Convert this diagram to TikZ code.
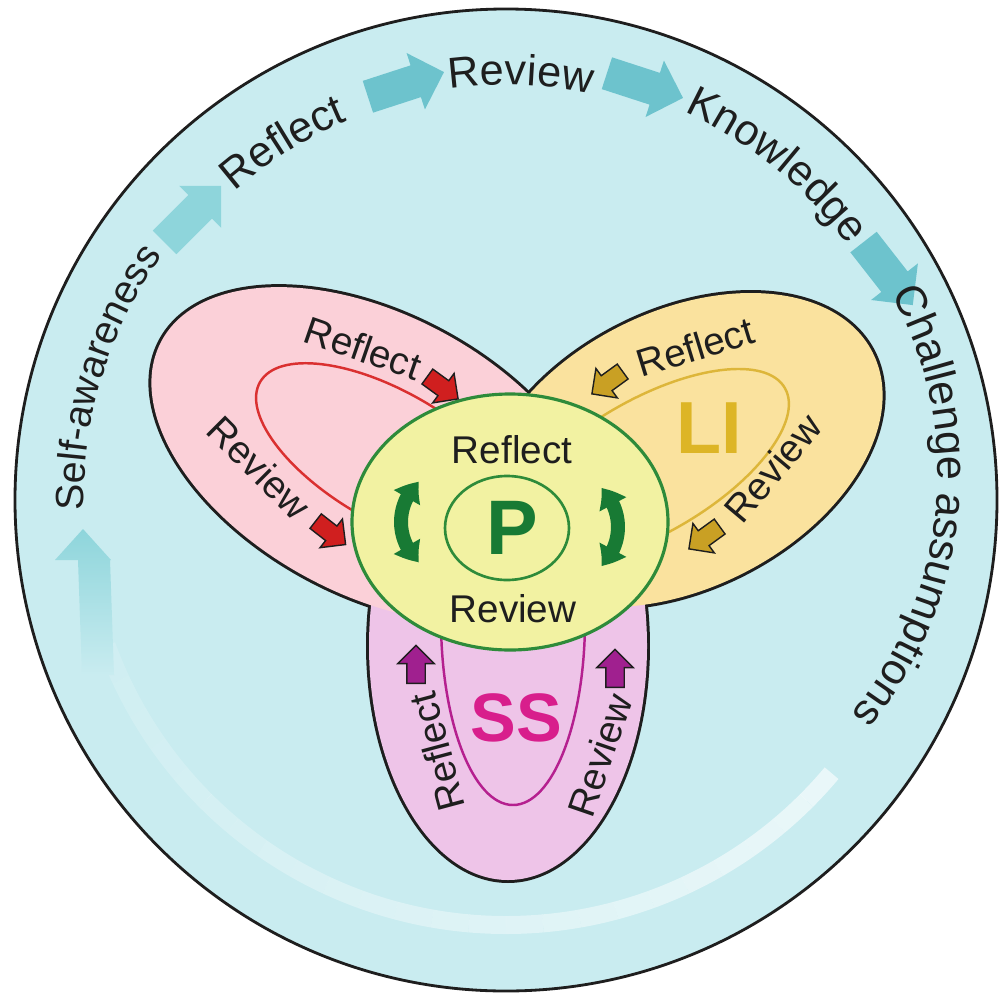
\documentclass[tikz,border=0pt]{standalone}
\usepackage{fontspec}
\setmainfont{Liberation Sans}
\usetikzlibrary{shapes.arrows,arrows.meta,bending,decorations.text}

\definecolor{ringbg}{HTML}{C9ECF0}
\definecolor{pinklobe}{HTML}{FBD0D8}
\definecolor{goldlobe}{HTML}{FAE29E}
\definecolor{plumlobe}{HTML}{EEC4E8}
\definecolor{centrefill}{HTML}{F2F2A2}
\definecolor{centreline}{HTML}{2E8B3A}
\definecolor{darkgreen}{HTML}{187A34}
\definecolor{tealarrow}{HTML}{6DC3CD}
\definecolor{tealpale}{HTML}{8ED5DB}
\definecolor{redarrow}{HTML}{D01F1F}
\definecolor{goldarrow}{HTML}{C9A024}
\definecolor{plumarrow}{HTML}{A0208F}
\definecolor{redloop}{HTML}{DA3030}
\definecolor{goldloop}{HTML}{DDB63A}
\definecolor{plumloop}{HTML}{B5208F}
\definecolor{litext}{HTML}{DDB526}
\definecolor{sstext}{HTML}{D81E8C}
\definecolor{ink}{HTML}{1E1E1E}

\newcommand{\ringfont}{\fontsize{12.3}{14}\selectfont}
\newcommand{\ringfontsmall}{\fontsize{11.2}{13}\selectfont}
\newcommand{\bigfont}[1]{\fontsize{#1}{#1}\selectfont\bfseries}

\begin{document}
\begin{tikzpicture}[x=0.1mm, y=-0.1mm]
    \tikzset{
        lobe/.style={draw=ink, line width=1.7pt},
        innerloop/.style={line width=0.7pt},
        tag/.style={font=\fontsize{11}{13}\selectfont, text=ink, inner sep=0pt},
        flow/.style={single arrow, draw=none, inner xsep=0pt, inner ysep=1.6mm,
            minimum height=8mm, single arrow head extend=1.3mm},
        nudge/.style={single arrow, draw=ink, line width=0.4pt, inner xsep=0pt,
            inner ysep=0.85mm, minimum height=3.8mm, single arrow head extend=0.9mm},
        ring/.style={decorate, decoration={text along path, text align=center,
            text color=ink, text={|\ringfont|#1}}},
        turn/.style={draw=darkgreen, line width=1.4mm,
            {Triangle[width=2.9mm,length=2mm,bend]}-{Triangle[width=2.9mm,length=2mm,bend]}}
    }
    \useasboundingbox (0,0) rectangle (1001,995);
    \fill[white] (0,0) rectangle (1001,995);
    \coordinate (O) at (506,500);
    \draw[fill=ringbg, draw=ink, line width=0.8pt] (O) circle [radius=491];

    % return path at the bottom
    \foreach \i in {0,...,23} {
        \pgfmathsetmacro\a{40+5*\i}
        \pgfmathsetmacro\o{0.6-0.02*\i}
        \draw[white, opacity=\o, line width=1.8mm] (O) ++(\a:425)
            arc[start angle=\a, end angle=\a+5, radius=425];
    }
    \shade[top color=tealpale, bottom color=ringbg]
        (83,529) -- (111,560) -- (110,560) -- (114,675) -- (82,675) -- (78,560) -- (55,560) -- cycle;

    \node[flow, fill=tealpale, rotate=45] (flowa) at (187,220) {};
    \node[flow, fill=tealarrow, rotate=18] (flowb) at (398,87) {};
    \node[flow, fill=tealarrow, rotate=-18] (flowc) at (637,83) {};
    \node[flow, fill=tealarrow, rotate=-52] (flowd) at (883,267) {};

    \path[ring={|\ringfontsmall|Self-awareness}] (O) ++(-198:422) arc[start angle=-198, end angle=-128, radius=422];
    \path[ring={Reflect}] (O) ++(-157:411) arc[start angle=-157, end angle=-87, radius=411];
    \path[ring={Review}] (O) ++(-123:415) arc[start angle=-123, end angle=-53, radius=415];
    \path[ring={Knowledge}] (O) ++(-86:427) arc[start angle=-86, end angle=-16, radius=427];
    \coordinate (Oc) at (563,474);
    \path[ring={Challenge assumptions}] (Oc) ++(-44.5:375) arc[start angle=-44.5, end angle=55.5, radius=375];

    % the three lobes, outlined as one
    \draw[lobe] (508,646) ellipse [x radius=139, y radius=234];
    \draw[lobe, rotate around={-28:(375,455)}] (375,455) ellipse [x radius=242, y radius=140];
    \draw[lobe, rotate around={27:(681,450)}] (681,450) ellipse [x radius=215, y radius=138];
    \fill[plumlobe] (508,646) ellipse [x radius=139, y radius=234];
    \fill[pinklobe, rotate around={-28:(375,455)}] (375,455) ellipse [x radius=242, y radius=140];
    \fill[goldlobe, rotate around={27:(681,450)}] (681,450) ellipse [x radius=215, y radius=138];

    \draw[innerloop, draw=redloop, rotate around={-30:(390,457)}] (390,457) ellipse [x radius=150, y radius=65];
    \draw[innerloop, draw=goldloop, rotate around={30:(648,467)}] (648,467) ellipse [x radius=158, y radius=67];
    \draw[innerloop, draw=plumloop] (513,620) ellipse [x radius=72, y radius=185];

    \draw[fill=centrefill, draw=centreline, line width=0.9pt] (510,522) ellipse [x radius=158, y radius=128];
    \draw[draw=centreline, line width=0.75pt] (507,528) ellipse [x radius=62, y radius=52];
    \draw[turn] (454,522) ++(-131:53) arc[start angle=-131, end angle=-229, radius=53];
    \draw[turn] (565,527) ++(-47:53) arc[start angle=-47, end angle=47, radius=53];

    \node[nudge, fill=redarrow, rotate=-36] (pinka) at (439,385) {};
    \node[nudge, fill=redarrow, rotate=-38] (pinkb) at (327,530) {};
    \node[nudge, fill=goldarrow, rotate=-144] (golda) at (611,380) {};
    \node[nudge, fill=goldarrow, rotate=-144] (goldb) at (708,535) {};
    \node[nudge, fill=plumarrow, rotate=90] (pluma) at (416,669) {};
    \node[nudge, fill=plumarrow, rotate=90] (plumb) at (615,673) {};

    \node[tag, rotate=-19] (pinkreflect) at (363,348) {Reflect};
    \node[tag, rotate=-45] (pinkreview) at (259,468) {Review};
    \node[tag, rotate=17] (goldreflect) at (695,347) {Reflect};
    \node[tag, rotate=50] (goldreview) at (773,468) {Review};
    \node[tag, rotate=105] (plumreflect) at (437,752) {Reflect};
    \node[tag, rotate=71] (plumreview) at (600,755) {Review};
    \node[tag] (midreflect) at (512,450) {Reflect};
    \node[tag] (midreview) at (513,609) {Review};

    \node[font=\bigfont{22}, text=darkgreen, inner sep=0pt] (P) at (512,528) {P};
    \node[font=\bigfont{21}, text=litext, inner sep=0pt] (LI) at (709,428) {LI};
    \node[font=\bigfont{19.5}, text=sstext, inner sep=0pt] (SS) at (516,718) {SS};
\end{tikzpicture}
\end{document}
